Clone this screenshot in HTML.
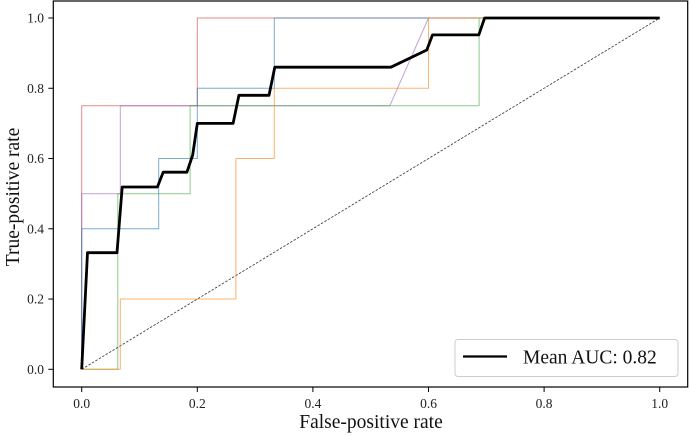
<!DOCTYPE html>
<html><head><meta charset="utf-8"><style>
html,body{margin:0;padding:0;background:#fff}
svg{display:block}
svg text{font-family:"Liberation Serif","DejaVu Serif",serif}
</style></head><body>
<svg id="chart" width="690" height="436" viewBox="0 0 690 436"></svg>
<script>
const xTicks=[0,0.2,0.4,0.6,0.8,1.0];
const yTicks=[0,0.2,0.4,0.6,0.8,1.0];
const redX=[0,0,0.2,0.2,1], redY=[0,0.75,0.75,1,1];
const purpleX=[0,0,0.0667,0.0667,0.533,0.6,1], purpleY=[0,0.5,0.5,0.75,0.75,1,1];
const greenX=[0,0.0625,0.0625,0.1875,0.1875,0.6875,0.6875,1], greenY=[0,0,0.5,0.5,0.75,0.75,1,1];
const blueX=[0,0,0.1333,0.1333,0.2,0.2,0.3333,0.3333,1], blueY=[0,0.4,0.4,0.6,0.6,0.8,0.8,1,1];
const orangeX=[0,0.0667,0.0667,0.2667,0.2667,0.3333,0.3333,0.6,0.6,1], orangeY=[0,0,0.2,0.2,0.6,0.6,0.8,0.8,1,1];
const meanX=[0,0.01,0.061,0.07,0.131,0.141,0.182,0.192,0.2,0.262,0.272,0.324,0.334,0.535,0.597,0.607,0.687,0.697,1];
const meanY=[0,0.332,0.332,0.519,0.519,0.561,0.561,0.61,0.7,0.7,0.78,0.78,0.86,0.86,0.909,0.952,0.952,1,1];
const meanLabel="Mean AUC: 0.82";

const svg=document.getElementById('chart');
const NS='http://www.w3.org/2000/svg';
const X0=81.7,X1=659.7,Y0=369.3,Y1=18;
const sx=v=>X0+v*(X1-X0), sy=v=>Y0-v*(Y0-Y1);
const FF='"Liberation Serif", "DejaVu Serif", serif';
function mk(t,a){const e=document.createElementNS(NS,t);for(const k in a)e.setAttribute(k,a[k]);if(t==='text')e.setAttribute('font-family',FF);svg.appendChild(e);return e;}
function line(xs,ys,color,w,op,name){
  const p=mk('polyline',{points:xs.map((x,i)=>sx(x).toFixed(1)+','+sy(ys[i]).toFixed(1)).join(' '),fill:'none',stroke:color,'stroke-width':w,'stroke-opacity':op,'stroke-linejoin':'round'});
  
  
  return p;
}
const frame=mk('rect',{x:53.3,y:1,width:634.4,height:386,fill:'none',stroke:'#000','stroke-width':1.2});


const diag=mk('line',{x1:sx(0),y1:sy(0),x2:sx(1),y2:sy(1),stroke:'#333','stroke-width':0.8,'stroke-dasharray':'2.5,1.5'});


line(redX,redY,'#d62728',1,0.55,'roc-fold-red');
line(purpleX,purpleY,'#9467bd',1,0.6,'roc-fold-purple');
line(greenX,greenY,'#2ca02c',1,0.55,'roc-fold-green');
line(blueX,blueY,'#1f77b4',1,0.6,'roc-fold-blue');
line(orangeX,orangeY,'#ff7f0e',1,0.6,'roc-fold-orange');
line(meanX,meanY,'#000',2.8,1,'mean-roc-curve');
xTicks.forEach(v=>{
  const t=mk('line',{x1:sx(v),x2:sx(v),y1:387,y2:392,stroke:'#000','stroke-width':1});
  
  
  const l=mk('text',{x:sx(v),y:408,'text-anchor':'middle','font-size':13.5,fill:'#222'});
  l.textContent=v.toFixed(1);
  
  
});
yTicks.forEach(v=>{
  const t=mk('line',{x1:48.3,x2:53.3,y1:sy(v),y2:sy(v),stroke:'#000','stroke-width':1});
  
  
  const l=mk('text',{x:44,y:sy(v)+4.5,'text-anchor':'end','font-size':13.5,fill:'#222'});
  l.textContent=v.toFixed(1);
  
  
});
const xl=mk('text',{x:371,y:428,'text-anchor':'middle','font-size':19.5,fill:'#111'});
xl.textContent='False-positive rate';


const yl=mk('text',{x:0,y:0,transform:'translate(19,197) rotate(-90)','text-anchor':'middle','font-size':19.5,fill:'#111'});
yl.textContent='True-positive rate';


const lg=mk('rect',{x:455,y:339.5,width:223,height:37,rx:3,fill:'#fff',stroke:'#ccc','stroke-width':1});


const ll=mk('line',{x1:463,x2:507,y1:356.5,y2:356.5,stroke:'#000','stroke-width':2.2});


const lt=mk('text',{x:523,y:363.5,'font-size':19.5,fill:'#111'});
lt.textContent=meanLabel;


</script>
</body></html>
